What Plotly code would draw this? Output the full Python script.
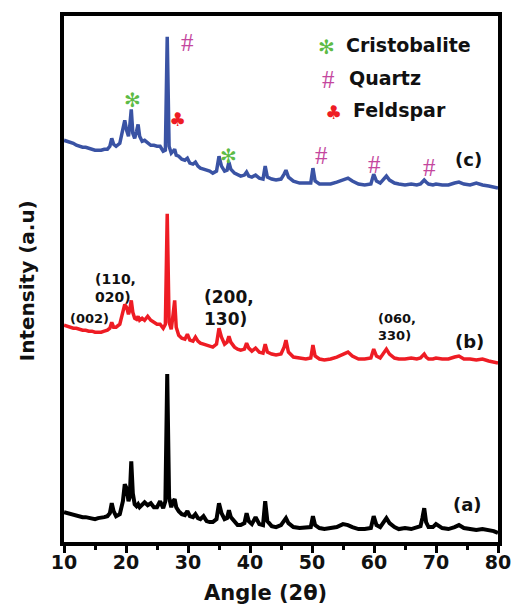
import plotly.graph_objects as go

# Diffraction angle grid (2-theta, degrees), shared by all three patterns
two_theta = [
    10, 10.5, 11, 11.5, 12, 12.5, 13, 13.5, 14, 14.5,
    15, 15.5, 16, 16.5, 17, 17.4, 17.7, 18.0, 18.4, 19.0,
    19.5, 19.8, 20.1, 20.4, 20.6, 20.85, 21.1, 21.4, 21.7, 21.95,
    22.2, 22.6, 23.0, 23.5, 24.0, 24.5, 25.0, 25.5, 26.0, 26.35,
    26.65, 26.95, 27.3, 27.6, 27.85, 28.1, 28.5, 29.0, 29.5, 29.9,
    30.3, 30.8, 31.2, 31.6, 32.0, 32.5, 33.0, 33.5, 34.0, 34.6,
    35.0, 35.4, 35.9, 36.3, 36.6, 36.9, 37.5, 38.0, 38.5, 39.1,
    39.45, 39.8, 40.3, 40.9, 41.5, 42.1, 42.45, 42.8, 43.5, 44.2,
    45.0, 45.5, 45.8, 46.2, 47.0, 48.0, 49.0, 49.8, 50.15, 50.5,
    51.2, 52.0, 53.0, 54.0, 55.0, 55.8, 56.5, 57.5, 58.5, 59.5,
    59.95, 60.4, 61.0, 61.6, 62.0, 62.5, 63.3, 64.0, 65.0, 66.0,
    66.9, 67.5, 67.8, 68.1, 68.4, 68.8, 69.5, 70.0, 71.0, 72.0,
    73.0, 73.7, 74.5, 75.5, 76.5, 77.5, 78.5, 79.3, 80.0,
]

# Stacked intensities (a.u.) for samples (a), (b), (c)
intensity_a = [
    30, 29, 28, 27, 27, 26, 25, 25, 24, 24,
    23, 24, 24, 25, 26, 29, 39, 31, 26, 28,
    41, 58, 54, 41, 45, 81, 49, 38, 36, 38,
    35, 38, 40, 37, 39, 35, 35, 41, 34, 41,
    169, 45, 35, 41, 43, 35, 31, 28, 27, 31,
    26, 25, 28, 24, 23, 26, 21, 20, 20, 23,
    39, 29, 23, 24, 32, 25, 20, 17, 17, 19,
    29, 21, 18, 25, 18, 17, 41, 21, 16, 15,
    17, 21, 24, 19, 15, 14, 14, 15, 26, 17,
    14, 13, 14, 15, 18, 17, 15, 13, 13, 14,
    26, 17, 15, 21, 24, 19, 15, 13, 14, 13,
    15, 16, 24, 34, 20, 15, 15, 18, 14, 13,
    15, 17, 14, 13, 12, 13, 12, 11, 9,
]

intensity_b = [
    218, 217, 216, 215, 215, 214, 213, 213, 212, 212,
    211, 211, 211, 212, 213, 215, 221, 216, 216, 219,
    231, 239, 236, 229, 233, 243, 231, 225, 224, 227,
    223, 225, 223, 227, 223, 221, 219, 219, 215, 219,
    330, 221, 214, 229, 243, 216, 208, 205, 204, 209,
    203, 202, 206, 202, 200, 199, 198, 197, 196, 199,
    215, 206, 199, 201, 207, 201, 196, 194, 193, 194,
    200, 195, 192, 195, 191, 190, 199, 191, 189, 188,
    189, 196, 203, 191, 186, 185, 184, 185, 198, 187,
    184, 183, 184, 186, 189, 191, 187, 184, 184, 185,
    194, 187, 185, 190, 194, 189, 185, 184, 184, 185,
    184, 185, 187, 189, 186, 184, 184, 185, 184, 184,
    186, 187, 184, 184, 183, 184, 182, 181, 180,
]

intensity_c = [
    404, 403, 402, 401, 399, 398, 397, 397, 396, 395,
    394, 394, 394, 395, 395, 398, 406, 400, 398, 401,
    418, 424, 414, 408, 418, 435, 411, 406, 413, 420,
    408, 403, 404, 401, 399, 399, 398, 398, 393, 394,
    508, 398, 391, 393, 395, 389, 388, 385, 384, 386,
    381, 380, 382, 378, 376, 375, 374, 373, 371, 373,
    388, 378, 373, 374, 382, 375, 371, 369, 368, 369,
    372, 368, 367, 369, 366, 365, 378, 367, 365, 364,
    365, 370, 374, 367, 363, 361, 361, 361, 376, 363,
    360, 360, 360, 362, 364, 366, 363, 360, 359, 360,
    370, 363, 361, 366, 368, 364, 361, 360, 359, 360,
    359, 360, 362, 364, 362, 360, 359, 360, 359, 359,
    361, 362, 360, 359, 361, 359, 358, 357, 356,
]

x_ticks = [10, 20, 30, 40, 50, 60, 70, 80]

# Phase markers: (symbol, colour, 2theta, intensity)
phase_marks = [
    ("#", "#c4479e", 29.9, 502),
    ("\u273b", "#5dbb46", 21.0, 445),
    ("\u2663", "#ee1c24", 28.3, 425),
    ("\u273b", "#5dbb46", 36.6, 388),
    ("#", "#c4479e", 51.5, 389),
    ("#", "#c4479e", 60.0, 380),
    ("#", "#c4479e", 69.0, 377),
]

# Key of phases: (symbol, colour, label, 2theta, intensity)
phase_key = [
    ("\u273b", "#5dbb46", "Cristobalite", 52.3, 498),
    ("#", "#c4479e", "Quartz", 52.7, 465),
    ("\u2663", "#ee1c24", "Feldspar", 53.4, 432),
]

# Miller index labels on pattern (b): (text, 2theta, intensity, size)
hkl_labels = [
    ("(002)", 10.6, 225, 13),
    ("(110,<br>020)", 14.6, 255, 14),
    ("(200,<br>130)", 32.2, 235, 17),
    ("(060,<br>330)", 60.3, 216, 13),
]

# Sample tags: (text, 2theta, intensity)
sample_tags = [
    ("(c)", 75.2, 385),
    ("(b)", 75.4, 202),
    ("(a)", 75.1, 38),
]

BOLD = "DejaVu Sans"


def symbol_font(sym, col):
    if sym == "#":
        return dict(family="Liberation Serif", size=25, color=col)
    if sym == "\u273b":
        return dict(family="DejaVu Sans", size=20, color=col)
    return dict(family="DejaVu Sans", size=19, color=col)


fig = go.Figure()
for vals, colour, width in [
    (intensity_a, "#000000", 4),
    (intensity_b, "#ee1c24", 3.5),
    (intensity_c, "#3a53a4", 3.5),
]:
    fig.add_trace(go.Scatter(
        x=two_theta, y=vals, mode="lines",
        line=dict(color=colour, width=width),
        showlegend=False, hoverinfo="skip",
    ))

annotations = []
for sym, col, xv, yv in phase_marks:
    annotations.append(dict(x=xv, y=yv, text=sym, showarrow=False,
                            font=symbol_font(sym, col)))

for sym, col, label, xv, yv in phase_key:
    annotations.append(dict(x=xv, y=yv, text=sym, showarrow=False,
                            font=symbol_font(sym, col)))
    annotations.append(dict(x=xv + 2.9, y=yv + 2, text="<b>%s</b>" % label,
                            showarrow=False, xanchor="left",
                            font=dict(family=BOLD, size=19, color="#111111")))

for txt, xv, yv, size in hkl_labels:
    annotations.append(dict(x=xv, y=yv, text="<b>%s</b>" % txt, showarrow=False,
                            xanchor="left", align="left",
                            font=dict(family=BOLD, size=size, color="#111111")))

for txt, xv, yv in sample_tags:
    annotations.append(dict(x=xv, y=yv, text="<b>%s</b>" % txt, showarrow=False,
                            font=dict(family=BOLD, size=18, color="#111111")))

# Axis titles
annotations.append(dict(xref="paper", yref="paper", x=0.465, y=-0.097,
                        xanchor="center", yanchor="middle",
                        text="<b>Angle (2\u03b8)</b>", showarrow=False,
                        font=dict(family=BOLD, size=21, color="#111111")))
annotations.append(dict(xref="paper", yref="paper", x=-0.085, y=0.496,
                        xanchor="center", yanchor="middle",
                        text="<b>Intensity (a.u)</b>", showarrow=False,
                        textangle=-90,
                        font=dict(family=BOLD, size=20, color="#111111")))

fig.update_layout(
    width=523, height=608,
    margin=dict(l=64, r=13, t=13, b=66),
    paper_bgcolor="white", plot_bgcolor="white",
    annotations=annotations,
    xaxis=dict(
        range=[10, 80], tickvals=x_ticks, ticktext=[str(v) for v in x_ticks],
        showgrid=False, zeroline=False,
        showline=True, linecolor="black", linewidth=3.5, mirror=True,
        ticks="outside", ticklen=7, tickwidth=3, tickcolor="black",
        ticklabelstandoff=-7,
        minor=dict(dtick=5, tick0=10, ticks="outside", ticklen=4,
                   tickwidth=3, tickcolor="black", showgrid=False),
        tickfont=dict(family=BOLD, size=19, color="#111111", weight="bold"),
    ),
    yaxis=dict(
        range=[0, 529], showticklabels=False, ticks="",
        showgrid=False, zeroline=False,
        showline=True, linecolor="black", linewidth=3.5, mirror=True,
    ),
)

fig.write_html("out.html", config={"displayModeBar": False})
